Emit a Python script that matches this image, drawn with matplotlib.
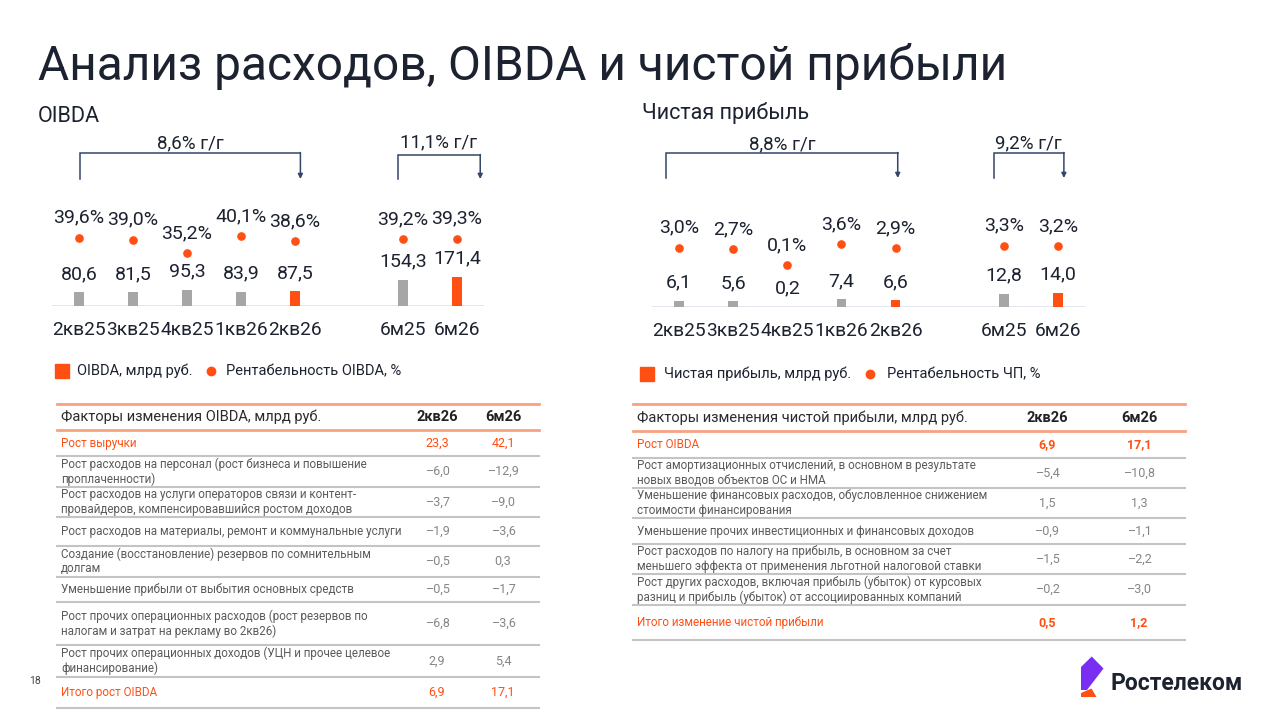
import matplotlib
matplotlib.use("Agg")
import matplotlib.pyplot as plt
from matplotlib.patches import Polygon
from matplotlib.transforms import blended_transform_factory

plt.rcParams["font.family"] = ["Roboto", "DejaVu Sans"]

W, H = 1280, 723
ORANGE = "#ff4f12"
SALMON = "#f9a183"
GRAY_BAR = "#a6a6a6"
DARK = "#1c2230"
NAVY = "#34456a"
TXT = "#5a5a5a"
NUM = "#858585"
RULE = "#c4c4c4"

# chart data
periods = ["2кв25", "3кв25", "4кв25", "1кв26", "2кв26", "6м25", "6м26"]
highlight = [False, False, False, False, True, False, True]
oibda = [80.6, 81.5, 95.3, 83.9, 87.5, 154.3, 171.4]
oibda_margin = [39.6, 39.0, 35.2, 40.1, 38.6, 39.2, 39.3]
net_profit = [6.1, 5.6, 0.2, 7.4, 6.6, 12.8, 14.0]
net_margin = [3.0, 2.7, 0.1, 3.6, 2.9, 3.3, 3.2]
oibda_growth = ["8,6% г/г", "11,1% г/г"]
net_growth = ["8,8% г/г", "9,2% г/г"]

# table data
oibda_factors = [
    "Рост выручки",
    "Рост расходов на персонал (рост бизнеса и повышение\nпроплаченности)",
    "Рост расходов на услуги операторов связи и контент-\nпровайдеров, компенсировавшийся ростом доходов",
    "Рост расходов на материалы, ремонт и коммунальные услуги",
    "Создание (восстановление) резервов по сомнительным\nдолгам",
    "Уменьшение прибыли от выбытия основных средств",
    "Рост прочих операционных расходов (рост резервов по\nналогам и затрат на рекламу во 2кв26)",
    "Рост прочих операционных доходов (УЦН и прочее целевое\nфинансирование)",
    "Итого рост OIBDA",
]
oibda_q = [23.3, -6.0, -3.7, -1.9, -0.5, -0.5, -6.8, 2.9, 6.9]
oibda_h = [42.1, -12.9, -9.0, -3.6, 0.3, -1.7, -3.6, 5.4, 17.1]

net_factors = [
    "Рост OIBDA",
    "Рост амортизационных отчислений, в основном в результате\nновых вводов объектов ОС и НМА",
    "Уменьшение финансовых расходов, обусловленное снижением\nстоимости финансирования",
    "Уменьшение прочих инвестиционных и финансовых доходов",
    "Рост расходов по налогу на прибыль, в основном за счет\nменьшего эффекта от применения льготной налоговой ставки",
    "Рост других расходов, включая прибыль (убыток) от курсовых\nразниц и прибыль (убыток) от ассоциированных компаний",
    "Итого изменение чистой прибыли",
]
net_q = [6.9, -5.4, 1.5, -0.9, -1.5, -0.2, 0.5]
net_h = [17.1, -10.8, 1.3, -1.1, -2.2, -3.0, 1.2]
table_cols = ["2кв26", "6м26"]

# layout (pixels)
slots = [0, 1, 2, 3, 4, 6, 7]


def num(v, pct=False):
    s = f"{abs(v):.1f}".replace(".", ",")
    if v < 0:
        s = "–" + s
    return s + ("%" if pct else "")


def fig_rect(x0, x1, ytop, ybot):
    return [x0 / W, 1 - ybot / H, (x1 - x0) / W, (ybot - ytop) / H]


def draw_chart(fig, bg, rect, values, margins, bar_top, pct_lim, brackets, growth):
    ax = fig.add_axes(rect)
    ax.patch.set_alpha(0)
    ax.set_xlim(-0.5, 7.5)
    ax.set_ylim(0, bar_top)
    colors = [ORANGE if h else GRAY_BAR for h in highlight]
    ax.bar(slots, values, width=0.18, color=colors, zorder=2)
    ax.axhline(0, color="#dfe4ec", lw=1.3, zorder=1)
    for x, v in zip(slots, values):
        ax.annotate(num(v), (x, v), xytext=(0, 13), textcoords="offset points",
                    ha="center", va="center", fontsize=14, color=DARK)
    for x, p in zip(slots, periods):
        ax.annotate(p, (x, 0), xytext=(0, -17.5), textcoords="offset points",
                    ha="center", va="center", fontsize=13.8, color=DARK,
                    annotation_clip=False)
    ax2 = ax.twinx()
    ax2.patch.set_alpha(0)
    ax2.set_ylim(*pct_lim)
    ax2.plot(slots, margins, "o", ls="none", color=ORANGE, ms=5.2, zorder=3)
    for x, m in zip(slots, margins):
        ax2.annotate(num(m, pct=True), (x, m), xytext=(0, 14.4), textcoords="offset points",
                     ha="center", va="center", fontsize=14, color=DARK)
    for a in (ax, ax2):
        a.set_xticks([])
        a.set_yticks([])
        for s in a.spines.values():
            s.set_visible(False)

    tr = blended_transform_factory(ax.transData, bg.transData)
    for (x0, x1, ytop, ybot, ytxt), label in zip(brackets, growth):
        bg.plot([x0, x0, x1], [ybot, ytop, ytop], color=NAVY, lw=1.1,
                transform=tr, solid_joinstyle="miter")
        bg.annotate("", xy=(x1, ybot), xytext=(x1, ytop - 0.5),
                    xycoords=tr, textcoords=tr,
                    arrowprops=dict(arrowstyle="-|>", color=NAVY, lw=1.1,
                                    mutation_scale=7, shrinkA=0, shrinkB=0))
        bg.text((x0 + x1) / 2, ytxt, label, transform=tr, ha="center", va="center",
                fontsize=13.5, color=DARK)
    return ax


def draw_table(bg, x0, x1, text_x, col_x, lines, factors, qv, hv, title, bold_total):
    n = len(factors)
    bg.plot([x0, x1], [lines[0]] * 2, color=SALMON, lw=2)
    bg.plot([x0, x1], [lines[1]] * 2, color=SALMON, lw=2)
    for y in lines[2:]:
        bg.plot([x0, x1], [y, y], color=RULE, lw=1.5)
    yh = (lines[0] + lines[1]) / 2
    bg.text(text_x, yh, title, ha="left", va="center", fontsize=10.5, color="#2b2b2b")
    for cx, c in zip(col_x, table_cols):
        bg.text(cx, yh, c, ha="center", va="center", fontsize=10.5,
                fontweight="bold", color="#222222")
    for i in range(n):
        yc = (lines[i + 1] + lines[i + 2]) / 2
        accent = i == 0 or i == n - 1
        col = ORANGE if accent else TXT
        bg.text(text_x, yc, factors[i], ha="left", va="center", fontsize=8.4,
                color=col, linespacing=1.12)
        w = "bold" if (accent and bold_total) else "normal"
        for cx, v in zip(col_x, (qv[i], hv[i])):
            bg.text(cx, yc, num(v), ha="center", va="center", fontsize=9,
                    color=ORANGE if accent else NUM, fontweight=w)


fig = plt.figure(figsize=(W / 100, H / 100), dpi=100)
bg = fig.add_axes([0, 0, 1, 1])
bg.set_xlim(0, W)
bg.set_ylim(H, 0)
bg.axis("off")

bg.text(38, 80, "Анализ расходов, OIBDA и чистой прибыли", fontsize=34.5,
        color=DARK, va="baseline", ha="left")
bg.text(38, 122, "OIBDA", fontsize=15.5, color=DARK, va="baseline")
bg.text(642, 119, "Чистая прибыль", fontsize=15.5, color=DARK, va="baseline")

draw_chart(fig, bg, fig_rect(52, 484, 130, 306), oibda, oibda_margin,
           1035, (19.93, 70.65),
           [(0.02, 4.1, 153, 179, 143), (5.9, 7.43, 155, 179, 142)], oibda_growth)
draw_chart(fig, bg, fig_rect(652, 1085, 131, 307), net_profit, net_margin,
           171, (-6.9, 22.43),
           [(-0.24, 4.04, 153, 178, 144), (5.81, 7.11, 153, 178, 143)], net_growth)

# legends
bg.plot([62], [371], "s", color=ORANGE, ms=9.5)
bg.text(77, 371, "OIBDA, млрд руб.", fontsize=10.5, color=DARK, va="center")
bg.plot([211], [371], "o", color=ORANGE, ms=6)
bg.text(226, 371, "Рентабельность OIBDA, %", fontsize=10.5, color=DARK, va="center")
bg.plot([647], [374], "s", color=ORANGE, ms=9.5)
bg.text(664, 374, "Чистая прибыль, млрд руб.", fontsize=10.5, color=DARK, va="center")
bg.plot([870], [374], "o", color=ORANGE, ms=6)
bg.text(887, 374, "Рентабельность ЧП, %", fontsize=10.5, color=DARK, va="center")

draw_table(bg, 57, 539, 61, [437, 503],
           [404, 430, 456, 487, 517, 546, 577, 602, 645, 677, 708],
           oibda_factors, oibda_q, oibda_h, "Факторы изменения OIBDA, млрд руб.", False)
draw_table(bg, 633, 1185, 637, [1047, 1139],
           [404, 431, 458, 488, 518, 544, 574, 605, 640],
           net_factors, net_q, net_h, "Факторы изменения чистой прибыли, млрд руб.", True)

bg.text(35, 681, "18", fontsize=7.5, color="#444444", ha="center", va="center")

# logo
bg.add_patch(Polygon([(1081, 667), (1091.7, 656.5), (1103.5, 668.5), (1087, 690), (1081, 690)],
                     closed=True, color="#7a2ef2", lw=0))
bg.add_patch(Polygon([(1081, 697), (1096.5, 697), (1091.5, 688.5), (1081, 693)],
                     closed=True, color=ORANGE, lw=0))
bg.text(1110, 684, "Ростелеком", fontsize=16.5, fontweight="bold", color=DARK,
        va="center", ha="left")

fig.savefig("out.png", dpi=100)
